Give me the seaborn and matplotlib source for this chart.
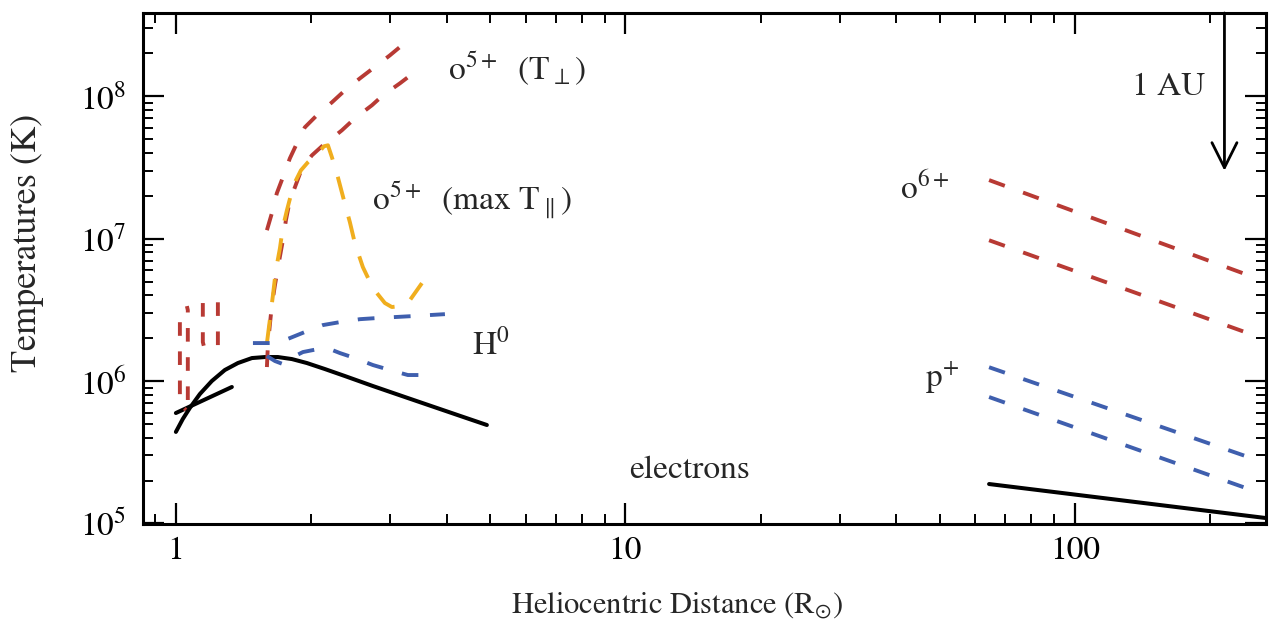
import matplotlib
matplotlib.use("Agg")
import matplotlib.pyplot as plt
import seaborn as sns

# ---- data: heliocentric distance (R_sun) vs temperature (K) ----
# electrons near the Sun
elec_r = [1.000, 1.036, 1.074, 1.131, 1.202, 1.285, 1.374, 1.476, 1.578, 1.686,
          1.811, 1.956, 2.145, 2.377, 2.744, 3.232, 3.867, 4.395, 4.918]
elec_t = [4.39e5, 5.41e5, 6.47e5, 8.11e5, 1.00e6, 1.195e6, 1.338e6, 1.450e6, 1.474e6, 1.474e6,
          1.427e6, 1.338e6, 1.214e6, 1.084e6, 9.22e5, 7.72e5, 6.36e5, 5.54e5, 4.91e5]
elec2_r = [1.000, 1.332]
elec2_t = [5.96e5, 9.08e5]
# electrons in the solar wind
elec_wind_r = [64.4, 266.0]
elec_wind_t = [1.89e5, 1.09e5]

# protons in the solar wind
prot_hi_r = [64.4, 242.6]
prot_hi_t = [1.25e6, 2.93e5]
prot_lo_r = [64.4, 242.6]
prot_lo_t = [7.72e5, 1.75e5]

# O6+ in the solar wind
o6_hi_r = [64.4, 242.6]
o6_hi_t = [2.58e7, 5.55e6]
o6_lo_r = [64.4, 242.6]
o6_lo_t = [9.75e6, 2.17e6]

# O5+ perpendicular temperature (two bounds)
o5_perp_hi_r = [1.594, 1.635, 1.677, 1.730, 1.793, 1.859, 1.936, 2.059, 2.224, 2.377,
                2.567, 2.744, 2.992, 3.182]
o5_perp_hi_t = [1.147e7, 1.510e7, 2.086e7, 2.70e7, 3.67e7, 4.68e7, 6.06e7, 7.36e7, 9.08e7, 1.102e8,
                1.338e8, 1.572e8, 1.94e8, 2.28e8]
o5_perp_lo_r = [1.594, 1.602, 1.618, 1.635, 1.661, 1.695, 1.730, 1.757, 1.793, 1.840,
                1.907, 2.007, 2.113, 2.224, 2.340, 2.501, 2.729, 2.887, 3.150, 3.368]
o5_perp_lo_t = [1.254e6, 1.789e6, 2.472e6, 3.415e6, 4.72e6, 6.84e6, 9.76e6, 1.349e7, 1.863e7, 2.30e7,
                3.12e7, 3.85e7, 4.46e7, 5.07e7, 5.77e7, 7.01e7, 8.65e7, 1.016e8, 1.234e8, 1.450e8]

# O5+ maximum parallel temperature
o5_par_r = [1.594, 1.618, 1.644, 1.669, 1.704, 1.730, 1.766, 1.802, 1.849, 1.897,
            1.966, 2.070, 2.135, 2.179, 2.224, 2.293, 2.365, 2.438, 2.501, 2.606,
            2.744, 2.917, 3.023, 3.150, 3.316, 3.526]
o5_par_t = [1.848e6, 2.68e6, 4.01e6, 6.01e6, 8.58e6, 1.204e7, 1.585e7, 2.02e7, 2.57e7, 3.02e7,
            3.44e7, 3.98e7, 4.46e7, 4.53e7, 3.73e7, 2.70e7, 1.863e7, 1.306e7, 9.30e6, 6.31e6,
            4.49e6, 3.53e6, 3.31e6, 3.36e6, 3.70e6, 4.87e6]

# O5+ in the low corona (short segments)
o5_low_a_r = [1.0207, 1.0207, 1.031, 1.053]
o5_low_a_t = [2.59e6, 7.60e5, 6.68e5, 6.26e5]
o5_low_b_r = [1.063, 1.063, 1.058]
o5_low_b_t = [7.36e5, 3.15e6, 3.36e6]
o5_low_c_r = [1.148, 1.148, 1.160, 1.184]
o5_low_c_t = [3.53e6, 1.878e6, 1.650e6, 1.572e6]
o5_low_d_r = [1.240, 1.240, 1.221]
o5_low_d_t = [1.789e6, 3.82e6, 4.21e6]

# neutral hydrogen
h0_hi_r = [1.484, 1.635, 1.721, 1.793, 1.936, 2.123, 2.317, 2.567, 2.801, 3.368, 3.967]
h0_hi_t = [1.848e6, 1.848e6, 1.909e6, 2.003e6, 2.21e6, 2.472e6, 2.594e6, 2.72e6, 2.77e6, 2.86e6, 2.95e6]
h0_lo_r = [1.594, 1.661, 1.730, 1.821, 1.917, 2.070, 2.200, 2.317, 2.501, 2.744, 2.992, 3.281, 3.580]
h0_lo_t = [1.498e6, 1.382e6, 1.316e6, 1.474e6, 1.598e6, 1.677e6, 1.677e6, 1.572e6, 1.450e6, 1.295e6,
           1.195e6, 1.102e6, 1.102e6]

AU_RSUN = 215.0

# ---- styling ----
sns.set_theme(style="ticks")
plt.rcParams.update({
    "font.family": ["STIXGeneral", "DejaVu Serif"],
    "mathtext.fontset": "stix",
    "axes.linewidth": 2.2,
    "axes.edgecolor": "black",
    "xtick.direction": "in",
    "ytick.direction": "in",
    "xtick.top": True,
    "ytick.right": True,
    "xtick.major.size": 15,
    "ytick.major.size": 15,
    "xtick.minor.size": 7,
    "ytick.minor.size": 7,
    "xtick.major.width": 1.6,
    "ytick.major.width": 1.6,
    "xtick.minor.width": 1.4,
    "ytick.minor.width": 1.4,
    "xtick.color": "black",
    "ytick.color": "black",
})

RED = "#b83a34"
BLUE = "#3f5fae"
GOLD = "#f0ae1e"
DASH = (0, (4.3, 5.0))
LONGDASH = (0, (6.0, 4.6))
LW = 2.8

fig = plt.figure(figsize=(12.71, 6.23), dpi=100)
ax = fig.add_axes([143 / 1271, 1 - 524 / 623, (1266 - 143) / 1271, (524 - 13) / 623])
ax.set_xscale("log")
ax.set_yscale("log")


def trace(r, t, color, ls="-", lw=LW):
    sns.lineplot(x=r, y=t, ax=ax, color=color, lw=lw, linestyle=ls,
                 sort=False, estimator=None, legend=False)


# electrons
trace(elec_r, elec_t, "black", "-", 2.9)
trace(elec2_r, elec2_t, "black", "-", 2.9)
trace(elec_wind_r, elec_wind_t, "black", "-", 2.9)

# protons
trace(prot_hi_r, prot_hi_t, BLUE, DASH)
trace(prot_lo_r, prot_lo_t, BLUE, DASH)

# O6+
trace(o6_hi_r, o6_hi_t, RED, DASH)
trace(o6_lo_r, o6_lo_t, RED, DASH)

# O5+ perpendicular
trace(o5_perp_hi_r, o5_perp_hi_t, RED, DASH)
trace(o5_perp_lo_r, o5_perp_lo_t, RED, DASH)
for r, t in [(o5_low_a_r, o5_low_a_t), (o5_low_b_r, o5_low_b_t),
             (o5_low_c_r, o5_low_c_t), (o5_low_d_r, o5_low_d_t)]:
    trace(r, t, RED, (0, (3.5, 4.0)))

# O5+ parallel
trace(o5_par_r, o5_par_t, GOLD, LONGDASH)

# H0
trace(h0_hi_r, h0_hi_t, BLUE, DASH)
trace(h0_lo_r, h0_lo_t, BLUE, DASH)

ax.set_xlim(0.845, 266)
ax.set_ylim(9.9e4, 3.85e8)

ax.set_xticks([1, 10, 100])
ax.set_xticklabels(["1", "10", "100"])
ax.tick_params(axis="x", which="major", labelsize=24, pad=9)
ax.tick_params(axis="y", which="major", labelsize=24, pad=12)
ax.set_xlabel(r"Heliocentric Distance (R$_{\odot}$)", fontsize=22)
ax.set_ylabel("Temperatures (K)", fontsize=26)
ax.xaxis.set_label_coords(0.476, -0.13)
ax.yaxis.set_label_coords(-0.088, 0.55)

# species labels
fs = 24
ax.text(4.03, 1.57e8, r"o$^{5+}$  (T$_{\perp}$)", fontsize=fs, ha="left", va="center")
ax.text(2.73, 1.86e7, r"o$^{5+}$  (max T$_{\parallel}$)", fontsize=fs, ha="left", va="center")
ax.text(4.56, 1.79e6, r"H$^{0}$", fontsize=fs, ha="left", va="center")
ax.text(10.2, 2.37e5, "electrons", fontsize=fs, ha="left", va="center")
ax.text(40.8, 2.26e7, r"o$^{6+}$", fontsize=fs, ha="left", va="center")
ax.text(46.4, 1.05e6, r"p$^{+}$", fontsize=fs, ha="left", va="center")

# 1 AU marker
ax.annotate("", xy=(AU_RSUN, 3.0e7), xytext=(AU_RSUN, 3.85e8),
            arrowprops=dict(arrowstyle="->,head_length=0.9,head_width=0.45",
                            mutation_scale=20, lw=2.0, color="black",
                            shrinkA=0, shrinkB=0))
ax.text(194.6, 1.16e8, "1 AU", fontsize=fs, ha="right", va="center")

fig.savefig("out.png", dpi=100)
